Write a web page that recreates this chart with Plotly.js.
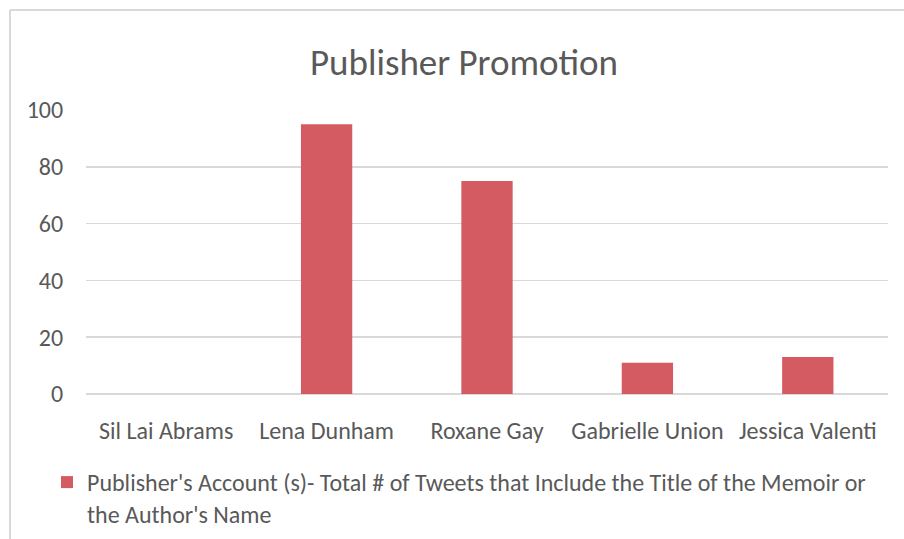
<!DOCTYPE html>
<html><head><meta charset="utf-8">
<script src="https://cdn.plot.ly/plotly-3.0.1.min.js"></script>
<style>html,body{margin:0;padding:0;background:#fff;}#chart{width:904px;height:539px;}</style>
</head><body><div id="chart"></div>
<script>
const categories = ["Sil Lai Abrams", "Lena Dunham", "Roxane Gay", "Gabrielle Union", "Jessica Valenti"];
const tweetCounts = [0, 95, 75, 11, 13];
const seriesName = "Publisher's Account (s)- Total # of Tweets that Include the Title of the Memoir or<br>the Author's Name";
const yTicks = [0, 20, 40, 60, 80, 100];

const FONT = "Carlito, Lato, sans-serif";
const TEXT = "#595959";
const GRID = "#d9d9d9";

const trace = {
  type: "bar", x: categories, y: tweetCounts, name: seriesName,
  marker: {color: "#D45B61"}, showlegend: true
};
const pxX = p => (p - 86) / 802;
const pxY = p => (394 - p) / 284;
const layout = {
  width: 904, height: 539,
  margin: {l: 86, r: 16, t: 110, b: 145, autoexpand: false},
  paper_bgcolor: "#fff", plot_bgcolor: "#fff",
  font: {family: FONT, color: TEXT, size: 24},
  title: {text: "Publisher Promotion", font: {family: FONT, size: 37, color: TEXT},
          xref: "paper", x: pxX(464), xanchor: "center", yref: "container", y: 1 - 62/539, yanchor: "middle"},
  bargap: 0.68,
  xaxis: {type: "category", showgrid: false, zeroline: false, showline: false, automargin: false,
          ticks: "outside", ticklen: 15, tickcolor: "rgba(0,0,0,0)", tickfont: {size: 24, color: TEXT}},
  yaxis: {range: [0, 100], tickvals: yTicks, showgrid: true, gridcolor: GRID, gridwidth: 1.5, automargin: false,
          zeroline: true, zerolinecolor: GRID, zerolinewidth: 1.5, showline: false,
          ticks: "outside", ticklen: 17, tickcolor: "rgba(0,0,0,0)", tickfont: {size: 24, color: TEXT}},
  showlegend: true,
  legend: {orientation: "h", x: pxX(47), xanchor: "left", y: pxY(460), yanchor: "top", valign: "top",
           font: {size: 24, color: TEXT}, bgcolor: "rgba(0,0,0,0)"},
  shapes: [
    {type: "line", xref: "paper", yref: "paper", x0: pxX(10), x1: pxX(10), y0: pxY(10), y1: pxY(560), line: {color: GRID, width: 2}},
    {type: "line", xref: "paper", yref: "paper", x0: pxX(10), x1: pxX(920), y0: pxY(10), y1: pxY(10), line: {color: GRID, width: 2}}
  ]
};
Plotly.newPlot("chart", [trace], layout, {displayModeBar: false, staticPlot: true});
</script></body></html>
